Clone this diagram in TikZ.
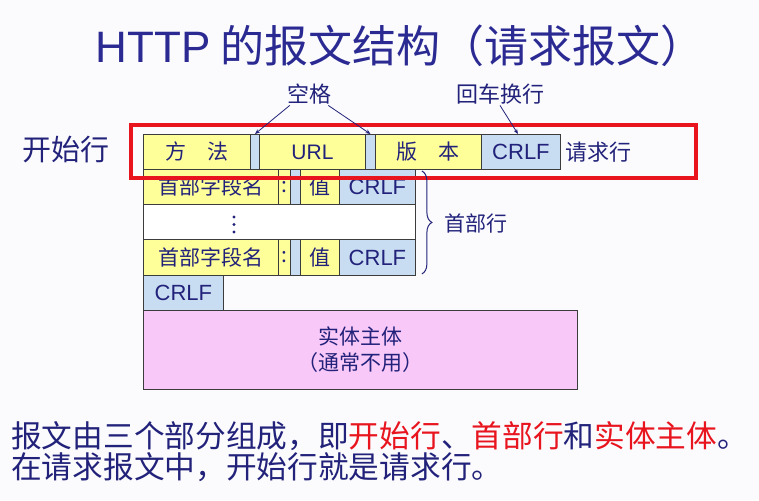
\documentclass[tikz,border=0pt]{standalone}
\usepackage{fontspec}
\setmainfont{Noto Sans CJK SC}
\newfontfamily\arial{Liberation Sans}
\usetikzlibrary{decorations.pathreplacing,arrows.meta}
\definecolor{navy}{HTML}{22227A}
\definecolor{ttl}{HTML}{2A2A92}
\definecolor{yel}{HTML}{FFFF99}
\definecolor{blu}{HTML}{C8DDF2}
\definecolor{pnk}{HTML}{F8C8F8}
\definecolor{rd}{HTML}{E8141E}
\definecolor{edge}{HTML}{3C3C3C}
\definecolor{bg}{HTML}{FBFBFE}
\begin{document}
\begin{tikzpicture}[x=1pt,y=-1pt,
  cell/.style={draw=edge, line width=0.9pt, inner sep=0pt, anchor=north west, text=navy, font=\fontsize{21}{24}\selectfont},
  ycell/.style={cell, fill=yel},
  bcell/.style={cell, fill=blu},
  lbl/.style={text=navy, inner sep=1pt},
  ptr/.style={draw=navy, line width=0.8pt, -{Stealth[length=5pt,width=4pt]}}
]
\fill[bg] (0,0) rectangle (759,500);
\useasboundingbox (0,0) rectangle (759,500);

% title
\node[text=ttl, font=\fontsize{44}{48}\selectfont] (title) at (400,46) {{\arial HTTP} 的报文结构（请求报文）};

% start line label
\node[lbl, font=\fontsize{29}{32}\selectfont] (start) at (66,150) {开始行};

% row 1: request line
\node[ycell, minimum width=107pt, minimum height=35pt] (meth) at (143,134) {方\hspace{1em}法};
\node[bcell, minimum width=9pt, minimum height=35pt] (sp1) at (250,134) {};
\node[ycell, minimum width=106pt, minimum height=35pt] (url) at (259,134) {\arial URL};
\node[bcell, minimum width=10pt, minimum height=35pt] (sp2) at (365,134) {};
\node[ycell, minimum width=106pt, minimum height=35pt] (ver) at (375,134) {版\hspace{1em}本};
\node[bcell, minimum width=79pt, minimum height=35pt, font=\fontsize{22}{24}\selectfont\arial] (crlf1) at (481,134) {CRLF};
\node[lbl, font=\fontsize{22}{24}\selectfont] (reqline) at (598,152) {请求行};

% row 2: header line
\node[ycell, minimum width=135pt, minimum height=35pt] (hn1) at (143,169) {首部字段名};
\node[ycell, minimum width=12pt, minimum height=35pt] (co1) at (278,169) {:};
\node[bcell, minimum width=10pt, minimum height=35pt] (sp3) at (290,169) {};
\node[ycell, minimum width=39pt, minimum height=35pt] (v1) at (300,169) {值};
\node[bcell, minimum width=76pt, minimum height=35pt, font=\fontsize{22}{24}\selectfont\arial] (crlf2) at (339,169) {CRLF};

% row 3: ellipsis
\node[cell, fill=white, minimum width=272pt, minimum height=35pt] (dots) at (143,204) {};
\fill[navy] (234,217) circle (1.6pt) (234,224.5) circle (1.6pt) (234,232) circle (1.6pt);

% row 4: header line
\node[ycell, minimum width=135pt, minimum height=36pt] (hn2) at (143,239) {首部字段名};
\node[ycell, minimum width=12pt, minimum height=36pt] (co2) at (278,239) {:};
\node[bcell, minimum width=10pt, minimum height=36pt] (sp4) at (290,239) {};
\node[ycell, minimum width=39pt, minimum height=36pt] (v2) at (300,239) {值};
\node[bcell, minimum width=76pt, minimum height=36pt, font=\fontsize{22}{24}\selectfont\arial] (crlf3) at (339,239) {CRLF};

% row 5: blank line CRLF
\node[bcell, minimum width=80pt, minimum height=35pt, font=\fontsize{22}{24}\selectfont\arial] (crlf4) at (143,275) {CRLF};

% entity body
\node[cell, fill=pnk, minimum width=434pt, minimum height=79pt, align=center, font=\fontsize{21}{26}\selectfont] (body) at (143,310) {实体主体\\（通常不用）};

% red highlight
\draw[rd, line width=4.5pt] (131,125) rectangle (696,178);

% labels with pointers
\node[lbl, font=\fontsize{22}{24}\selectfont] (space) at (309,94) {空格};
\draw[ptr] ([xshift=4pt]space.south west) -- (sp1.north);
\draw[ptr] ([xshift=-4pt]space.south east) -- (sp2.north);
\node[lbl, font=\fontsize{22}{24}\selectfont] (crlab) at (500,94) {回车换行};
\draw[ptr] (crlab.south) -- ([xshift=-3pt]crlf1.north);

% brace for header lines
\coordinate (btop) at ([xshift=6pt,yshift=-2pt]crlf2.north east);
\coordinate (bbot) at ([xshift=6pt,yshift=2pt]crlf3.south east);
\draw[navy, line width=1pt, decorate, decoration={brace, amplitude=10pt}] (btop) -- (bbot);
\node[lbl, font=\fontsize{21}{24}\selectfont, anchor=west] (hdr) at (443,224) {首部行};

% bottom text
\node[anchor=west, text=navy, inner sep=0pt, font=\fontsize{30.7}{34}\selectfont] (note1) at (11,436) {报文由三个部分组成，即\textcolor{rd}{开始行}、\textcolor{rd}{首部行}和\textcolor{rd}{实体主体}。};
\node[anchor=west, text=navy, inner sep=0pt, font=\fontsize{30.7}{34}\selectfont] (note2) at (11,467) {在请求报文中，开始行就是请求行。};
\end{tikzpicture}
\end{document}
